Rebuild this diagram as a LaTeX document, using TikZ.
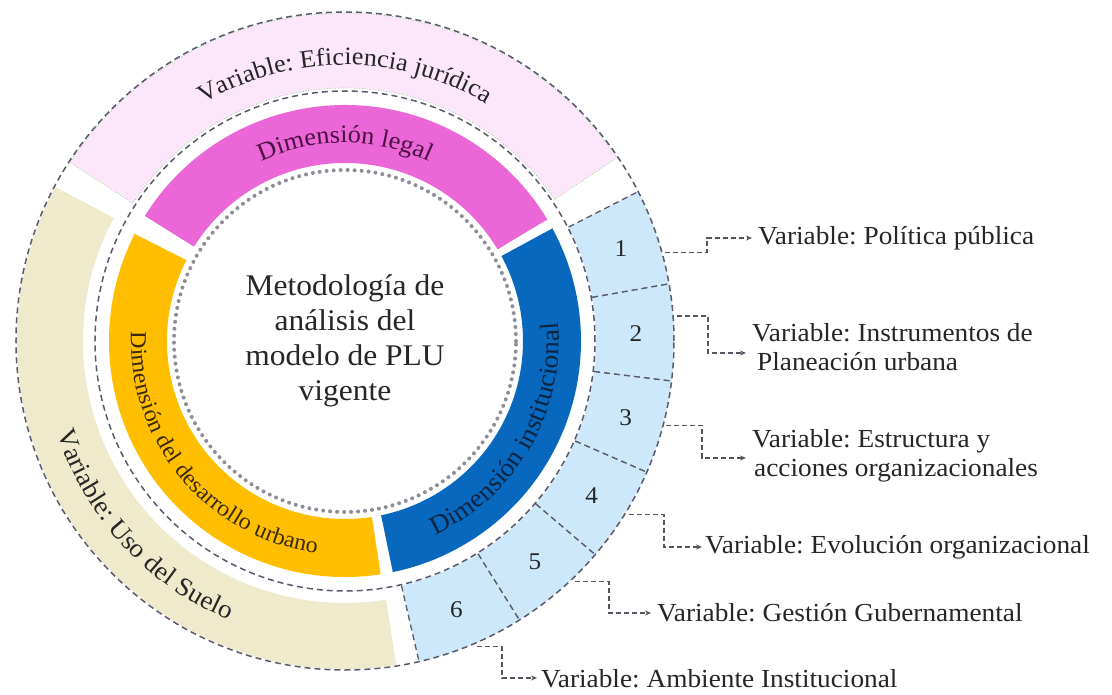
\documentclass[tikz,border=0pt]{standalone}
\usepackage{fontspec}
\setmainfont{Liberation Serif}[FakeStretch=1.05]
\usetikzlibrary{decorations.text,arrows.meta,calc}

\definecolor{pinklight}{HTML}{FBE6FA}
\definecolor{beigeband}{HTML}{EEEACB}
\definecolor{bluelight}{HTML}{CCE8FA}
\definecolor{pinkdim}{HTML}{EB66D6}
\definecolor{orangedim}{HTML}{FFBF00}
\definecolor{bluedim}{HTML}{0868BE}
\definecolor{ringgray}{HTML}{5A5A6C}
\definecolor{conngray}{HTML}{55555F}
\definecolor{beadgray}{HTML}{8E8E98}
\definecolor{txtdark}{HTML}{262626}
\definecolor{txtpurple}{HTML}{4A1042}
\definecolor{txtbrown}{HTML}{3B2A05}
\definecolor{txtnavy}{HTML}{0B2545}

\begin{document}
\frenchspacing
\begin{tikzpicture}[x=1pt,y=1pt,
  ring/.style={draw=ringgray,line width=1.5pt,dash pattern=on 6pt off 4pt},
  segline/.style={draw=ringgray,line width=1.3pt,dash pattern=on 6pt off 4pt},
  conn/.style={draw=conngray,line width=1.1pt,dash pattern=on 5pt off 3pt,
    -{Stealth[length=6pt,width=5pt]}},
  lbl/.style={anchor=west,inner xsep=6pt,inner ysep=0pt,align=left,
    text=txtdark,font=\fontsize{26}{29}\selectfont},
  num/.style={text=txtdark,font=\fontsize{24}{24}\selectfont},
  arctext/.style={decorate,decoration={text along path,text align=center,
    text color=#1}}
]
% canvas: centre of the rings at the origin
\useasboundingbox (-345,-353) rectangle (767,341);
\fill[white] (-345,-353) rectangle (767,341);

% ---- outer ring: variables ----
\fill[pinklight] (34:253) arc[start angle=34,end angle=147,radius=253]
  -- (147:328) arc[start angle=147,end angle=34,radius=328] -- cycle;
\draw[gray!60!green!70,line width=0.7pt,dotted]
  (34:253) arc[start angle=34,end angle=147,radius=253]
  -- (147:328) arc[start angle=147,end angle=34,radius=328] -- cycle;
\fill[beigeband] (152:262) arc[start angle=152,end angle=279,radius=262]
  -- (279:328) arc[start angle=279,end angle=152,radius=328] -- cycle;

\foreach \a/\b/\n in {10/27/1,-7/10/2,-23.5/-7/3,-40.5/-23.5/4,-58/-40.5/5,-77/-58/6}{
  \fill[bluelight] (\a:251) arc[start angle=\a,end angle=\b,radius=251]
    -- (\b:329) arc[start angle=\b,end angle=\a,radius=329] -- cycle;
  \draw[segline] (\a:251) -- (\a:329);
  \draw[segline] (\b:251) -- (\b:329);
  \node[num] (n\n) at ({(\a+\b)/2}:291) {\n};
}

% ---- inner ring: dimensions ----
\fill[pinkdim] (31:178) arc[start angle=31,end angle=148,radius=178]
  -- (148:236) arc[start angle=148,end angle=31,radius=236] -- cycle;
\fill[orangedim] (153:178) arc[start angle=153,end angle=278.7,radius=178]
  -- (278.7:236) arc[start angle=278.7,end angle=153,radius=236] -- cycle;
\fill[bluedim] (-78.3:178) arc[start angle=-78.3,end angle=28.5,radius=178]
  -- (28.5:236) arc[start angle=28.5,end angle=-78.3,radius=236] -- cycle;

% ---- guide circles ----
\draw[ring] (0,0) circle[radius=329];
\draw[ring] (0,0) circle[radius=250];
\draw[beadgray,line width=4pt,line cap=round,dash pattern=on 0pt off 7pt]
  (0,0) circle[radius=171];

% ---- curved labels ----
\path[arctext=txtdark,decoration={text={|\fontsize{25}{25}\selectfont|Variable: Eficiencia jurídica}}]
  (150:276) arc[start angle=150,end angle=30,radius=276];
\path[arctext=txtpurple,decoration={text={|\fontsize{25}{25}\selectfont|Dimensión legal}}]
  (150:198) arc[start angle=150,end angle=30,radius=198];
\path[arctext=txtbrown,decoration={text={|\fontsize{23}{23}\selectfont|Dimensión del desarrollo urbano}}]
  (160:214) arc[start angle=160,end angle=280,radius=214];
\path[arctext=txtnavy,decoration={text={|\fontsize{26}{26}\selectfont|Dimensión institucional}}]
  (-80:214) arc[start angle=-80,end angle=20,radius=214];
\path[arctext=txtdark,decoration={text={|\fontsize{26}{26}\selectfont|Variable: Uso del Suelo}}]
  (170:302) arc[start angle=170,end angle=275,radius=302];

% ---- centre ----
\node[align=center,text=txtdark,font=\fontsize{30}{35}\selectfont] (core) at (0,0)
  {Metodología de\\análisis del\\modelo de PLU\\vigente};

% ---- variable labels on the right ----
\node[lbl] (t1) at (407,103) {Variable: Política pública};
\node[lbl] (t2) at (401,-6) {Variable: Instrumentos de\\\hspace*{5pt}Planeación urbana};
\node[lbl] (t3) at (401,-115) {Variable: Estructura y\\\hspace*{2pt}acciones organizacionales};
\node[lbl,inner xsep=3pt] (t4) at (357,-206) {Variable: Evolución organizacional};
\node[lbl] (t5) at (306,-272) {Variable: Gestión Gubernamental};
\node[lbl,inner xsep=4pt] (t6) at (192,-338) {Variable: Ambiente Institucional};

% connector anchors on the rim and elbow points
\coordinate (s1) at (15.5:332);  \coordinate (k1) at (362,103);
\coordinate (s2) at (4.3:333);   \coordinate (k2) at (363,-12);
\coordinate (s3) at (-14.7:332); \coordinate (k3) at (357,-117);
\coordinate (s4) at (-31.4:333); \coordinate (k4) at (319,-206);
\coordinate (s5) at (-46.3:333); \coordinate (k5) at (264,-272);
\coordinate (s6) at (-66.7:333); \coordinate (k6) at (157,-337);

\draw[conn] (s1) -| (k1) -- (k1 -| t1.west);
\draw[conn] (s2) -| (k2) -- (k2 -| t2.west);
\draw[conn] (s3) -| (k3) -- (k3 -| t3.west);
\draw[conn] (s4) -| (k4) -- (k4 -| t4.west);
\draw[conn] (s5) -| (k5) -- (k5 -| t5.west);
\draw[conn] (s6) -| (k6) -- (k6 -| t6.west);
\end{tikzpicture}
\end{document}
